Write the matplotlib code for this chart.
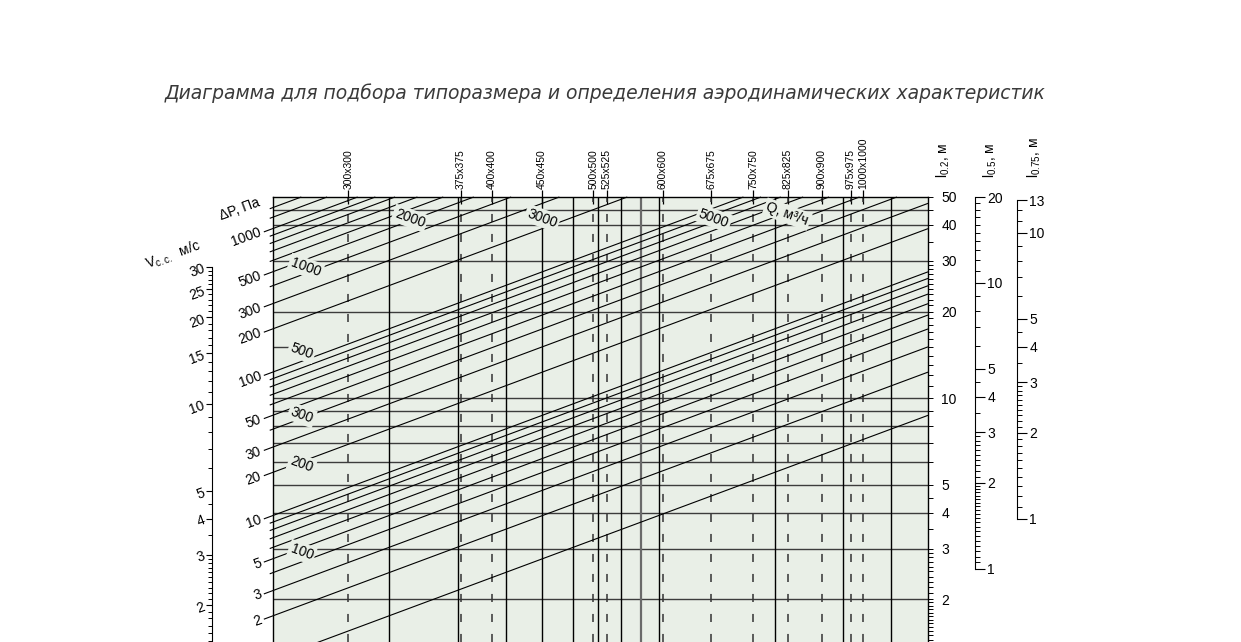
import numpy as np
import matplotlib.pyplot as plt

W, H = 1241, 642
TOP, BOT = 197, 642          # верх и низ поля диаграммы, px

plt.rcParams['font.family'] = ['Liberation Sans', 'DejaVu Sans']
plt.rcParams['mathtext.fontset'] = 'custom'
plt.rcParams['mathtext.rm'] = 'Liberation Sans'
plt.rcParams['mathtext.it'] = 'Liberation Sans'
plt.rcParams['lines.scale_dashes'] = False

title = 'Диаграмма для подбора типоразмера и определения аэродинамических характеристик'

# типоразмеры и их положение по горизонтали (% ширины поля)
sizes = ['300x300', '375x375', '400x400', '450x450', '500x500', '525x525', '600x600',
         '675x675', '750x750', '825x825', '900x900', '975x975', '1000x1000']
size_pos = [11.5, 28.7, 33.4, 41.1, 48.9, 51.0, 59.5, 66.9, 73.3, 78.6, 83.8, 88.2, 90.1]
grid_pos = [17.7, 28.2, 35.6, 41.1, 45.8, 49.6, 53.1, 56.2, 58.9, 76.6, 87.0, 94.4]

# горизонтали по шкале l0.2
l02_lines = [45, 40, 30, 20, 10, 9, 8, 7, 6, 5, 4, 3, 2]

# наклонные линии ΔP, Па
dp_lines = [1, 2, 3, 4, 5, 6, 7, 8, 9, 10, 20, 30, 40, 50, 60, 70, 80, 90,
            100, 200, 300, 400, 500, 600, 700, 800, 900, 1000, 1200, 1400]
dp_labels = [1000, 500, 300, 200, 100, 50, 30, 20, 10, 5, 3, 2]
dp_rise = 1.698   # подъём линии ΔP на всю ширину поля, декад

# подписи расхода Q
q_text = ['100', '200', '300', '500', '1000', '2000', '3000', '5000', 'Q, м³/ч']
q_x = [4.4, 4.4, 4.4, 4.4, 5.0, 20.9, 41.1, 67.3, 78.5]
q_l = [2.92, 5.90, 8.73, 14.6, 28.5, 42.2, 42.2, 42.2, 43.6]

# шкалы
v_major = [2, 3, 4, 5, 10, 15, 20, 25, 30]
v_minor = list(np.arange(1.5, 3.0, 0.1)) + [3.5, 4.5, 6, 7, 8, 9, 11, 12, 13, 14,
                                             16, 17, 18, 19, 21, 22, 23, 24, 26, 27, 28, 29]
l02_major = [2, 3, 4, 5, 10, 20, 30, 40, 50]
l02_minor = list(np.arange(1.45, 2.0, 0.05)) + list(np.arange(2.1, 3.0, 0.1)) + \
    [3.5, 4.5, 6, 7, 8, 9] + list(range(11, 20)) + list(range(21, 30)) + [35, 45]
l05_major = [1, 2, 3, 4, 5, 10, 20]
l05_minor = list(np.arange(1.05, 2.0, 0.05)) + list(np.arange(2.1, 3.0, 0.1)) + \
    [3.5, 4.5, 6, 7, 8, 9] + list(range(11, 20))
l075_major = [1, 2, 3, 4, 5, 10, 13]
l075_minor = list(np.arange(1.1, 3.0, 0.1)) + [3.5, 4.5, 6, 7, 8, 9, 11, 12]

panel = '#e9efe7'


def box(x0, x1):
    return [x0 / W, 1 - BOT / H, (x1 - x0) / W, (BOT - TOP) / H]


def lims(v, py, ppd):
    return v * 10 ** ((py - BOT) / ppd), v * 10 ** ((py - TOP) / ppd)


def fmt(v):
    return '%g' % v


fig = plt.figure(figsize=(W / 100, H / 100), dpi=100)
fig.text(605 / W, 1 - 93 / H, title, ha='center', va='center', fontsize=13.5,
         style='italic', color='#3a3a3a', family='DejaVu Sans')

# основное поле (ось y - шкала l0.2)
ax = fig.add_axes(box(273, 928))
ax_dp = ax.twinx()
ax.set_facecolor(panel)
ax.set_xlim(0, 100)
ax.set_yscale('log')
ax.set_ylim(*lims(10, 398, 288))
ax.spines['bottom'].set_visible(False)
for s in ['left', 'top', 'right']:
    ax.spines[s].set_linewidth(1.0)

ax.yaxis.tick_right()
ax.set_yticks(l02_major, labels=[fmt(v) for v in l02_major])
ax.set_yticks([v for v in l02_minor if v not in l02_major], minor=True)
ax.yaxis.set_minor_formatter(plt.NullFormatter())
ax.tick_params(axis='y', which='both', direction='out', length=3.6, width=0.7,
               pad=6, labelsize=10, left=False, labelleft=False)

ax.xaxis.tick_top()
ax.set_xticks(size_pos, labels=sizes, rotation=90, fontsize=7.5)
ax.tick_params(axis='x', which='major', direction='inout', length=10, width=0.9, pad=1)
ax.tick_params(axis='x', which='minor', top=False, bottom=False)

for l in l02_lines:
    ax.axhline(l, color='#3c3c3c', lw=1.0)
for x in grid_pos:
    if x == 56.2:
        ax.axvline(x, color='#6a6a6a', lw=1.6)
    else:
        ax.axvline(x, color='k', lw=1.0)
for x in size_pos:
    if x not in grid_pos:
        ax.axvline(x, color='#333333', lw=1.1, ls=(0, (5.8, 8.6)))

# наклонные линии ΔP
ax_dp.set_yscale('log')
dp_lo, dp_hi = lims(100, 372, 143.5)
ax_dp.set_ylim(dp_lo, dp_hi)
ax_dp.axis('off')
for v in dp_lines:
    x0 = -1.4 if v in dp_labels else -0.5
    x1 = min(100, 100 * np.log10(dp_hi / v) / dp_rise)
    xs = np.array([x0, x1])
    ax_dp.plot(xs, v * 10 ** (dp_rise * xs / 100), color='k', lw=0.8,
               clip_on=False, solid_capstyle='butt')
    if v in dp_labels:
        ax_dp.annotate(fmt(v), xy=(x0, v * 10 ** (dp_rise * x0 / 100)),
                       xytext=(-2, 0), textcoords='offset points', ha='right',
                       va='center', rotation=20, rotation_mode='anchor',
                       fontsize=10, annotation_clip=False)

for s, x, l in zip(q_text, q_x, q_l):
    ax_dp.text(x, l, s, transform=ax.transData, rotation=-20, ha='center',
               va='center', fontsize=10, zorder=5,
               bbox=dict(boxstyle='square,pad=0.15', fc=panel, ec='none'))
ax.plot([0, 2.3], [15, 15], color='#3c3c3c', lw=1.0)

# шкала скорости
axv = fig.add_axes(box(212, 213))
axv.set_yscale('log')
axv.set_ylim(*lims(10, 404, 288))
axv.patch.set_visible(False)
for s in ['right', 'top', 'bottom']:
    axv.spines[s].set_visible(False)
axv.spines['left'].set_bounds(axv.get_ylim()[0], 30)
axv.set_xticks([])
axv.set_yticks(v_major, labels=[fmt(v) for v in v_major])
axv.set_yticks(v_minor, minor=True)
axv.yaxis.set_minor_formatter(plt.NullFormatter())
axv.tick_params(axis='y', which='major', length=4.5, width=0.8, pad=1.5, labelsize=10)
axv.tick_params(axis='y', which='minor', length=2.8, width=0.7)
for lab in axv.get_yticklabels():
    lab.set_rotation(20)
    lab.set_rotation_mode('anchor')

# шкалы l0.5 и l0.75
for x, anchor, top, major, minor in [(975, 283, 20, l05_major, l05_minor),
                                      (1017, 233, 13, l075_major, l075_minor)]:
    a = fig.add_axes(box(x - 1, x))
    a.set_yscale('log')
    a.set_ylim(*lims(10, anchor, 285.5))
    a.patch.set_visible(False)
    for s in ['left', 'top', 'bottom']:
        a.spines[s].set_visible(False)
    a.spines['right'].set_bounds(1, top)
    a.set_xticks([])
    a.yaxis.tick_right()
    a.set_yticks(major, labels=[fmt(v) for v in major])
    a.set_yticks(minor, minor=True)
    a.yaxis.set_minor_formatter(plt.NullFormatter())
    a.tick_params(axis='y', which='major', length=7, width=0.8, pad=2, labelsize=10)
    a.tick_params(axis='y', which='minor', length=3.6, width=0.7)

fig.text(240 / W, 1 - 209 / H, 'ΔP, Па', rotation=20, ha='center', va='center', fontsize=10)
fig.text(173 / W, 1 - 255 / H, r'V$_{\rm c.c.}$  м/с', rotation=20, ha='center',
         va='center', fontsize=10)
for x, t in [(943, r'l$_{0.2}$, м'), (990, r'l$_{0.5}$, м'), (1034, r'l$_{0.75}$, м')]:
    fig.text(x / W, 1 - 178 / H, t, rotation=90, ha='center', va='bottom', fontsize=10)

fig.savefig('out.png', dpi=100)
